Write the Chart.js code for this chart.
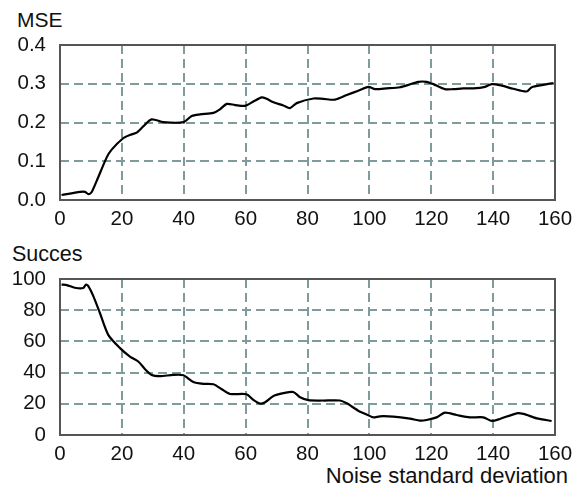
<!DOCTYPE html>
<html>
<head>
<meta charset="utf-8">
<script src="https://cdn.jsdelivr.net/npm/chart.js@4.4.1/dist/chart.umd.min.js"></script>
<style>
  html, body { margin: 0; padding: 0; background: #fff; }
  body { width: 580px; height: 488px; position: relative; overflow: hidden; font-family: "Liberation Sans", Arial, sans-serif; color: #111; }
  .box { position: absolute; left: 0; width: 580px; height: 230px; }
  .lbl { position: absolute; white-space: nowrap; color: #111; }
</style>
</head>
<body>
<div class="lbl" style="left:17px; top:9px; font-size:21px; line-height:21px;">MSE</div>
<div class="lbl" style="left:12px; top:244px; font-size:21.5px; line-height:21px;">Succes</div>
<div class="lbl" style="right:12px; top:465px; font-size:22px; line-height:22px;">Noise standard deviation</div>
<div class="box" style="top:0;"><canvas id="c1" width="580" height="230"></canvas></div>
<div class="box" style="top:235px;"><canvas id="c2" width="580" height="230"></canvas></div>
<script>
// ---- data ----
const mseX = [0.5, 6.5, 8.1, 9.2, 10.2, 11.9, 15.1, 16.7, 20.5, 22.6, 24.8, 26.9, 29.6, 33.4, 39.9, 42.6, 45.3, 49.6, 51.7, 53.9, 56.6, 59.8, 62.5, 65.2, 66.8, 69.0, 72.2, 74.3, 76.5, 81.9, 85.1, 88.9, 92.7, 96.4, 99.7, 101.8, 105.6, 109.9, 112.6, 115.8, 118.5, 120.7, 124.4, 127.1, 130.4, 133.6, 137.4, 139.6, 142.8, 146.5, 150.8, 152.5, 156.2, 159.5];
const mseY = [0.013, 0.021, 0.021, 0.015, 0.020, 0.050, 0.110, 0.130, 0.160, 0.168, 0.174, 0.190, 0.208, 0.201, 0.201, 0.217, 0.221, 0.225, 0.234, 0.248, 0.245, 0.243, 0.254, 0.265, 0.261, 0.252, 0.244, 0.237, 0.250, 0.262, 0.261, 0.259, 0.271, 0.282, 0.292, 0.286, 0.288, 0.291, 0.297, 0.305, 0.305, 0.299, 0.286, 0.286, 0.288, 0.288, 0.292, 0.299, 0.295, 0.287, 0.280, 0.291, 0.297, 0.302];

const sucX = [0.5, 2.2, 4.8, 7.5, 8.4, 9.2, 10.8, 12.9, 15.6, 19.4, 22.6, 25.3, 27.5, 29.6, 32.3, 36.6, 39.9, 43.1, 46.3, 49.6, 52.3, 55.0, 60.3, 62.5, 64.7, 66.3, 69.0, 72.2, 75.4, 77.6, 80.3, 85.1, 90.5, 92.7, 96.4, 99.7, 101.3, 103.4, 107.7, 113.1, 116.4, 118.5, 121.7, 124.4, 128.2, 132.5, 136.8, 139.6, 142.2, 147.6, 149.8, 154.1, 158.9];
const sucY = [96.4, 96.1, 94.4, 94.2, 96.4, 95.3, 88.9, 78.2, 64.2, 55.7, 50.3, 47.1, 42.2, 38.5, 37.7, 38.5, 38.3, 34.0, 32.8, 32.5, 29.3, 26.3, 26.1, 22.5, 20.1, 21.0, 25.0, 26.8, 27.6, 24.2, 22.3, 22.1, 22.1, 20.3, 15.6, 12.6, 11.3, 12.0, 11.8, 10.5, 9.2, 9.6, 11.3, 14.3, 12.8, 11.3, 11.3, 9.0, 10.3, 13.9, 13.5, 10.7, 9.0];

const xTicks = [0, 20, 40, 60, 80, 100, 120, 140, 160];
const mseTicks = [0.0, 0.1, 0.2, 0.3, 0.4];
const mseTickLabels = ['0.0', '0.1', '0.2', '0.3', '0.4'];
const sucTicks = [0, 20, 40, 60, 80, 100];
const sucTickLabels = ['0', '20', '40', '60', '80', '100'];

// ---- styling / drawing ----
const FONT = '"Liberation Sans", Arial, sans-serif';
const GRID = '#7f9b9b';
const BORDER = '#555555';

const frame = {
  id: 'frame',
  afterDatasetsDraw(chart) {
    const a = chart.chartArea, ctx = chart.ctx;
    ctx.save();
    ctx.strokeStyle = BORDER;
    ctx.lineWidth = 2;
    ctx.setLineDash([]);
    ctx.strokeRect(a.left, a.top, a.right - a.left, a.bottom - a.top);
    ctx.restore();
  }
};

function makeChart(id, xs, ys, yTicks, yLabels, padTop) {
  const pts = xs.map((x, i) => ({ x: x, y: ys[i] }));
  const yMin = yTicks[0], yMax = yTicks[yTicks.length - 1];
  return new Chart(document.getElementById(id), {
    type: 'line',
    data: { datasets: [{ data: pts, borderColor: '#000', borderWidth: 2.2, pointRadius: 0, tension: 0.25, fill: false }] },
    options: {
      responsive: false,
      animation: false,
      events: [],
      layout: { padding: { top: padTop, right: 25, left: 0, bottom: 0 } },
      plugins: { legend: { display: false }, tooltip: { enabled: false }, title: { display: false } },
      scales: {
        x: {
          type: 'linear', min: 0, max: 160,
          afterBuildTicks(s) { s.ticks = xTicks.map(v => ({ value: v })); },
          afterFit(s) { s.height = 30; },
          grid: { color: (c) => (c.tick && (c.tick.value === 0 || c.tick.value === 160)) ? 'rgba(0,0,0,0)' : GRID, lineWidth: 2, drawTicks: false },
          border: { display: false, dash: [9, 5] },
          ticks: { color: '#111', font: { family: FONT, size: 20.5 }, padding: 7, maxRotation: 0, autoSkip: false }
        },
        y: {
          type: 'linear', min: yMin, max: yMax,
          afterBuildTicks(s) { s.ticks = yTicks.map(v => ({ value: v })); },
          afterFit(s) { s.width = 60; },
          grid: { color: (c) => (c.tick && (c.tick.value === yMin || c.tick.value === yMax)) ? 'rgba(0,0,0,0)' : GRID, lineWidth: 2, drawTicks: false },
          border: { display: false, dash: [9, 5] },
          ticks: {
            color: '#111', font: { family: FONT, size: 20.5 }, padding: 14, autoSkip: false,
            callback: (v) => { const i = yTicks.indexOf(v); return i >= 0 ? yLabels[i] : ''; }
          }
        }
      }
    },
    plugins: [frame]
  });
}

makeChart('c1', mseX, mseY, mseTicks, mseTickLabels, 45);
makeChart('c2', sucX, sucY, sucTicks, sucTickLabels, 44);
</script>
</body>
</html>
